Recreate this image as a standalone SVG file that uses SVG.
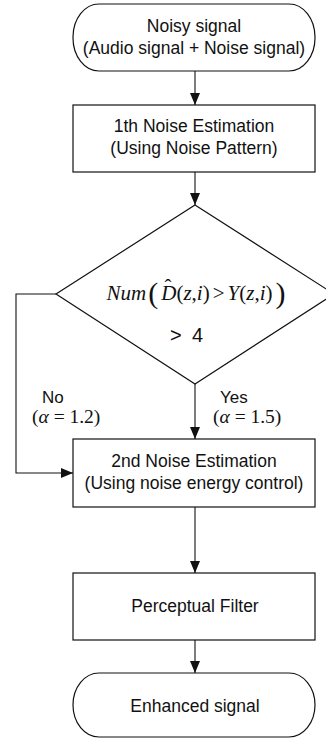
<svg xmlns="http://www.w3.org/2000/svg" width="326" height="738" viewBox="0 0 326 738">
<style>
.shape{fill:#fff;stroke:#111;stroke-width:1.2}
.conn{fill:none;stroke:#111;stroke-width:1.1}
.t{font-family:"Liberation Sans",Arial,sans-serif;font-size:17.5px;fill:#111;text-anchor:middle}
.lbl{font-family:"Liberation Sans",Arial,sans-serif;font-size:17px;fill:#111}
.m{font-family:"Liberation Serif","Times New Roman",serif;font-size:19.5px;fill:#111}
.eq{font-family:"Liberation Serif","Times New Roman",serif;font-size:21px;fill:#111;text-anchor:middle}
.big{font-size:30px}
.gt{font-family:"Liberation Sans",Arial,sans-serif;font-size:20px;fill:#111}
.i{font-style:italic}
</style>
<defs>
<marker id="ah" markerUnits="userSpaceOnUse" markerWidth="12" markerHeight="10" refX="12" refY="5" orient="auto">
<path d="M0,0 L12,5 L0,10 Z" fill="#111"/>
</marker>
</defs>
<g id="connectors">
<line class="conn" x1="195" y1="71" x2="195" y2="105" marker-end="url(#ah)"/>
<line class="conn" x1="195" y1="172" x2="195" y2="205" marker-end="url(#ah)"/>
<line class="conn" x1="195" y1="384" x2="195" y2="439" marker-end="url(#ah)"/>
<polyline class="conn" points="56,294 16,294 16,473 73,473" marker-end="url(#ah)"/>
<line class="conn" x1="195" y1="507" x2="195" y2="573" marker-end="url(#ah)"/>
<line class="conn" x1="195" y1="640" x2="195" y2="673" marker-end="url(#ah)"/>
<text class="lbl" x="42" y="403">No</text>
<text class="m" x="32" y="423">(<tspan class="i">α</tspan> = 1.2)</text>
<text class="lbl" x="220" y="403">Yes</text>
<text class="m" x="213" y="423">(<tspan class="i">α</tspan> = 1.5)</text>
</g>
<g id="start">
<rect class="shape" x="73" y="4" width="242" height="67" rx="26" ry="33"/>
<text class="t" x="194" y="32">Noisy signal</text>
<text class="t" x="194" y="54">(Audio signal + Noise signal)</text>
</g>
<g id="estimation1">
<rect class="shape" x="73" y="105" width="242" height="67"/>
<text class="t" x="194" y="132">1th Noise Estimation</text>
<text class="t" x="194" y="154">(Using Noise Pattern)</text>
</g>
<g id="decision">
<polygon class="shape" points="195,205 334,294 195,384 56,294"/>
<text class="eq" x="196" y="300"><tspan class="i">Num</tspan><tspan class="big" dx="2" dy="3">(</tspan><tspan class="i" dx="3" dy="-3">D</tspan><tspan dx="-12" dy="-6">ˆ</tspan><tspan dx="5" dy="6">(</tspan><tspan class="i">z</tspan>,<tspan class="i">i</tspan>)<tspan dx="3">&gt;</tspan><tspan class="i" dx="3">Y</tspan>(<tspan class="i">z</tspan>,<tspan class="i">i</tspan>)<tspan class="big" dx="3" dy="3">)</tspan></text>
<text class="gt" x="170" y="342">&gt;</text>
<text class="gt" x="192" y="342">4</text>
</g>
<g id="estimation2">
<rect class="shape" x="73" y="439" width="242" height="68"/>
<text class="t" x="194" y="467">2nd Noise Estimation</text>
<text class="t" x="194" y="489">(Using noise energy control)</text>
</g>
<g id="filter">
<rect class="shape" x="73" y="573" width="242" height="67"/>
<text class="t" x="195" y="612">Perceptual Filter</text>
</g>
<g id="end">
<rect class="shape" x="73" y="673" width="242" height="64" rx="26" ry="32"/>
<text class="t" x="195" y="712">Enhanced signal</text>
</g>
</svg>
